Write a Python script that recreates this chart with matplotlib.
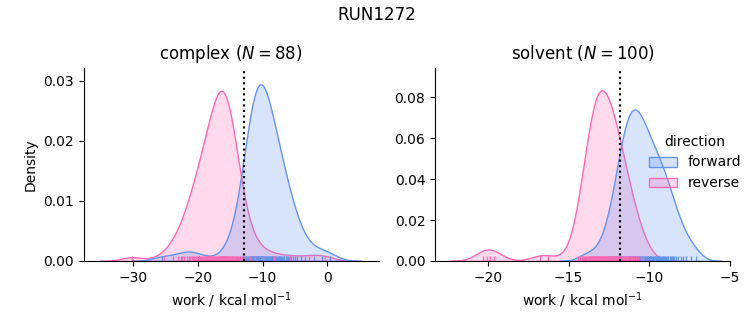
import matplotlib
matplotlib.use("Agg")
import matplotlib.pyplot as plt
import pandas as pd
import seaborn as sns

complex_forward = [
    -25.5, -22.6, -21.4, -19.8, -16.0,
    -14.75, -13.97, -13.55, -13.25, -13.02, -12.83, -12.66, -12.51, -12.38, -12.26,
    -12.15, -12.03, -11.94, -11.84, -11.75, -11.65, -11.58, -11.50, -11.41, -11.33,
    -11.25, -11.20, -11.12, -11.05, -10.99, -10.91, -10.86, -10.78, -10.72, -10.67,
    -10.59, -10.53, -10.48, -10.42, -10.36, -10.30, -10.23, -10.17, -10.11, -10.06,
    -10.00,
    -9.91, -9.81, -9.72, -9.62, -9.50, -9.40, -9.31, -9.21, -9.12, -9.02,
    -8.90, -8.80, -8.71, -8.58, -8.49, -8.36, -8.27, -8.14, -8.02, -7.92,
    -7.79, -7.67, -7.51, -7.39, -7.26, -7.10, -6.94, -6.79, -6.63, -6.44,
    -6.25, -6.06, -5.84, -5.59, -5.31, -4.99, -4.61, -4.11, -3.42, -2.12,
    -0.8, 0.4,
]
complex_reverse = [
    -30.2,
    -25.20, -23.81, -23.06, -22.51, -22.11, -21.77, -21.46, -21.19, -20.95, -20.75,
    -20.54, -20.34, -20.17, -20.00, -19.83, -19.66, -19.52, -19.39, -19.22, -19.08,
    -18.94, -18.84, -18.71, -18.57, -18.47, -18.33, -18.23, -18.09, -17.99, -17.89,
    -17.75, -17.65, -17.55, -17.45, -17.35, -17.24, -17.11, -17.01, -16.90, -16.80,
    -16.70,
    -16.64, -16.59, -16.53, -16.47, -16.40, -16.34, -16.28, -16.22, -16.17, -16.11,
    -16.03, -15.98, -15.92, -15.84, -15.79, -15.71, -15.65, -15.58, -15.50, -15.45,
    -15.37, -15.29, -15.20, -15.12, -15.05, -14.95, -14.86, -14.76, -14.67, -14.55,
    -14.44, -14.32, -14.19, -14.04, -13.87, -13.68, -13.45, -13.15, -12.73, -11.95,
    -11.2, -10.0, -8.3, -5.8, -2.8, -0.4,
]
solvent_forward = [
    -14.0, -13.5, -12.9,
    -12.64, -12.53, -12.42, -12.32, -12.22, -12.12, -12.03,
    -11.97, -11.92, -11.87, -11.83, -11.78, -11.73, -11.69, -11.65,
    -11.61, -11.58, -11.54, -11.51, -11.48, -11.44, -11.41, -11.37, -11.34, -11.30,
    -11.27, -11.24, -11.20, -11.17, -11.13, -11.10, -11.07,
    -11.04, -11.01, -10.98, -10.94, -10.91, -10.88, -10.85, -10.81, -10.78, -10.75,
    -10.71, -10.68, -10.64, -10.61, -10.57, -10.54, -10.50, -10.47, -10.43, -10.39,
    -10.36, -10.32, -10.28, -10.24, -10.20, -10.16, -10.12, -10.08, -10.04, -10.00,
    -9.96, -9.92, -9.87, -9.82,
    -9.76, -9.71, -9.66, -9.61, -9.56, -9.51, -9.46, -9.41, -9.36, -9.31,
    -9.26, -9.21, -9.16, -9.11, -9.06, -9.01,
    -8.95, -8.87, -8.80, -8.72, -8.65, -8.58, -8.50, -8.43,
    -8.33, -8.18, -8.03, -7.88, -7.68, -7.40, -7.10,
]
solvent_reverse = [
    -20.32, -20.08, -19.88, -19.62, -16.78, -16.31,
    -14.45, -14.30, -14.20, -14.10, -14.02, -13.95, -13.88,
    -13.83, -13.80, -13.76, -13.73, -13.70, -13.67, -13.64, -13.61, -13.58,
    -13.56, -13.54, -13.51, -13.49, -13.46, -13.44, -13.42, -13.39, -13.37, -13.34,
    -13.32, -13.30, -13.27, -13.25, -13.22, -13.20, -13.18, -13.15, -13.13, -13.11,
    -13.09, -13.07,
    -13.04, -13.01, -12.98, -12.95, -12.92, -12.89, -12.86, -12.83, -12.80, -12.77,
    -12.74, -12.71, -12.68, -12.65, -12.62, -12.59, -12.56, -12.53, -12.50, -12.48,
    -12.44, -12.40, -12.36, -12.32, -12.29, -12.25, -12.21, -12.18, -12.14, -12.10,
    -12.07, -12.03, -11.99, -11.96, -11.93,
    -11.90, -11.86, -11.82, -11.77, -11.73, -11.68, -11.64, -11.59, -11.55, -11.50,
    -11.45, -11.37, -11.29, -11.21, -11.13, -11.05,
    -10.95, -10.81, -10.67, -10.53, -10.40,
]

phases = ['complex', 'solvent']
free_energy = {'complex': -12.9, 'solvent': -11.78}
xlims = {'complex': (-37.7, 8.0), 'solvent': (-23.3, -4.95)}
ylims = {'complex': (0, 0.0322), 'solvent': (0, 0.0946)}

rows = []
for phase, fwd, rev in [('complex', complex_forward, complex_reverse),
                        ('solvent', solvent_forward, solvent_reverse)]:
    rows += [(phase, 'forward', w) for w in fwd]
    rows += [(phase, 'reverse', w) for w in rev]
df = pd.DataFrame(rows, columns=['phase', 'direction', 'work'])

palette = {'forward': 'cornflowerblue', 'reverse': 'hotpink'}
g = sns.displot(data=df, x='work', hue='direction', col='phase', col_order=phases,
                hue_order=['forward', 'reverse'], kind='kde', fill=True, rug=True,
                palette=palette, facet_kws=dict(sharex=False, sharey=False),
                height=3.25, aspect=1.0)

for ax, phase in zip(g.axes.flat, phases):
    n = (df.phase == phase).sum() // 2
    ax.set_title(f'{phase} ($N={n}$)', fontsize=12)
    ax.axvline(free_energy[phase], color='k', ls=':', lw=1.5)
    ax.set_xlim(*xlims[phase])
    ax.set_ylim(*ylims[phase])
g.set_axis_labels('work / kcal mol$^{-1}$', 'Density')

fig = g.figure
fig.suptitle('RUN1272', fontsize=12)
fig.set_size_inches(7.53, 3.25)
fig.subplots_adjust(left=0.111, right=0.970, bottom=0.197, top=0.792, wspace=0.19)
sns.move_legend(g, 'center left', bbox_to_anchor=(0.845, 0.5), frameon=False)
fig.savefig('out.png', dpi=100)
